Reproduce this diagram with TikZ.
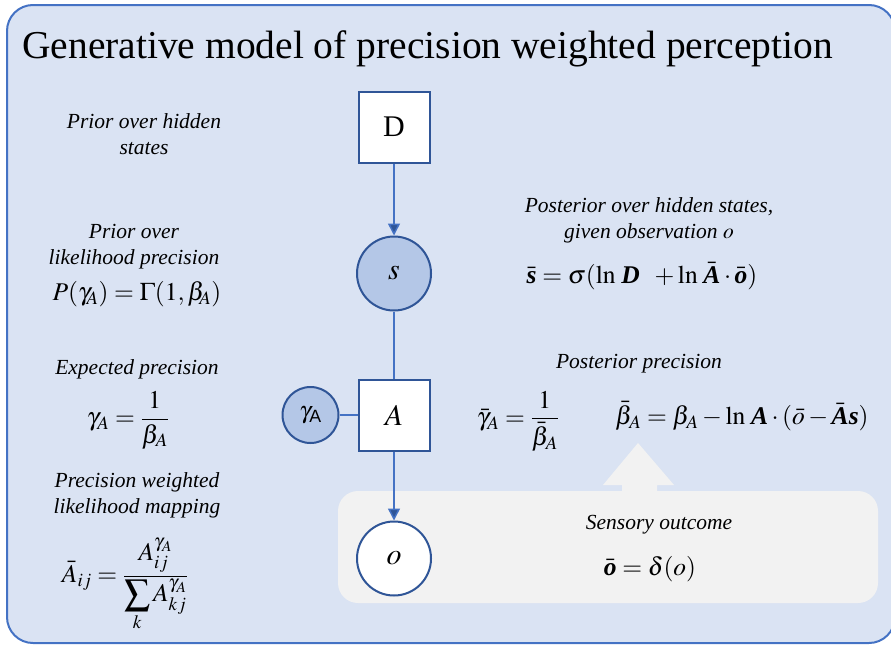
\documentclass[tikz,border=0pt]{standalone}
\usepackage{amsmath}
\usepackage{mathptmx}
\usepackage{fontspec}
\setmainfont{Liberation Serif}
\setsansfont{Liberation Sans}
\usetikzlibrary{positioning,arrows.meta}

\definecolor{panelblue}{RGB}{218,227,243}
\definecolor{panelrim}{RGB}{68,114,196}
\definecolor{noderim}{RGB}{47,85,151}
\definecolor{statefill}{RGB}{180,199,231}
\definecolor{linkblue}{RGB}{68,114,196}
\definecolor{boxgray}{RGB}{242,242,242}

\newcommand{\bvec}[1]{\text{\bfseries\itshape #1}}

\begin{document}
\begin{tikzpicture}[x=1pt, y=-1pt,
    node distance=70pt,
    factor/.style={rectangle, draw=noderim, line width=2pt, fill=white, minimum size=71pt, inner sep=0pt, font=\fontsize{30}{32}\selectfont},
    state/.style={circle, draw=noderim, line width=2pt, minimum size=74pt, inner sep=0pt, font=\fontsize{30}{32}\selectfont},
    caption/.style={align=center, font=\fontsize{21.5}{26}\selectfont\itshape},
    eqn/.style={align=center, font=\fontsize{25.5}{30}\selectfont},
    link/.style={draw=linkblue, line width=1.5pt},
    arrow/.style={link, -{Triangle[length=12pt,width=12pt, fill=noderim]}},
]
    \useasboundingbox (0,0) rectangle (891,648);
    \draw[panelrim, fill=panelblue, line width=2pt, rounded corners=26pt] (7,5) rectangle (895,643);

    \node[anchor=base west, inner sep=0pt, font=\fontsize{39.5}{44}\selectfont] (title) at (22,58) {Generative model of precision weighted perception};

    % observation panel and its arrow
    \node[rectangle, rounded corners=20pt, fill=boxgray, minimum width=540pt, minimum height=112pt] (obsbox) at (608,547) {};
    \fill[boxgray] (622,493) -- (622,485) -- (603,485) -- (638,443) -- (674,485) -- (657,485) -- (657,493) -- cycle;

    % graphical model
    \node[factor] (D) at (394,127) {D};
    \node[state, fill=statefill, below=72pt of D] (s) {$s$};
    \node[factor, below=67pt of s] (A) {$A$};
    \node[state, fill=white, below=69pt of A] (o) {$o$};
    \node[state, fill=statefill, minimum size=56pt, left=18pt of A, font=\fontsize{24}{26}\selectfont] (gamma) {$\gamma_{\textsf{A}}$};

    \draw[arrow] (D) -- (s);
    \draw[link] (s) -- (A);
    \draw[arrow] (A) -- (o);
    \draw[link] (gamma) -- (A);

    % left column
    \node[caption] (priorS) at (144,134) {Prior over hidden\\states};
    \node[caption] (priorG) at (134,247) {Prior over\\likelihood precision};
    \node[eqn] (priorEq) at (137,294) {$P(\gamma_{\!A}) = \Gamma(1,\beta_{\!A})$};
    \node[caption] (expect) at (137,369) {Expected precision};
    \node[eqn] (expectEq) at (128,420) {$\gamma_{A} = \dfrac{1}{\beta_{A}}$};
    \node[caption] (mapping) at (137,495) {Precision weighted\\likelihood mapping};
    \node[eqn] (mappingEq) at (125,585) {$\bar{A}_{ij} = \dfrac{A_{ij}^{\gamma_A}}{\displaystyle\sum_{k} A_{kj}^{\gamma_A}}$};

    % right column
    \node[caption] (postS) at (649,220) {Posterior over hidden states,\\given observation $o$};
    \node[eqn] (postSEq) at (642,276) {$\bar{\bvec{s}} = \sigma(\ln\,\bvec{D}\;\; + \ln\,\bar{\bvec{A}}\cdot\bar{\bvec{o}})$};
    \node[caption] (postG) at (639,364) {Posterior precision};
    \node[eqn] (postGEq) at (518,421) {$\bar{\gamma}_{A} = \dfrac{1}{\bar{\beta}_{A}}$};
    \node[eqn] (postBEq) at (742,416) {$\bar{\beta}_{A} = \beta_{A} - \ln\,\bvec{A}\cdot(\bar{o} - \bar{\bvec{A}}\bvec{s})$};
    \node[caption] (sensory) at (659,525) {Sensory outcome};
    \node[eqn] (sensoryEq) at (650,569) {$\bar{\bvec{o}} = \delta(o)$};

\end{tikzpicture}
\end{document}
